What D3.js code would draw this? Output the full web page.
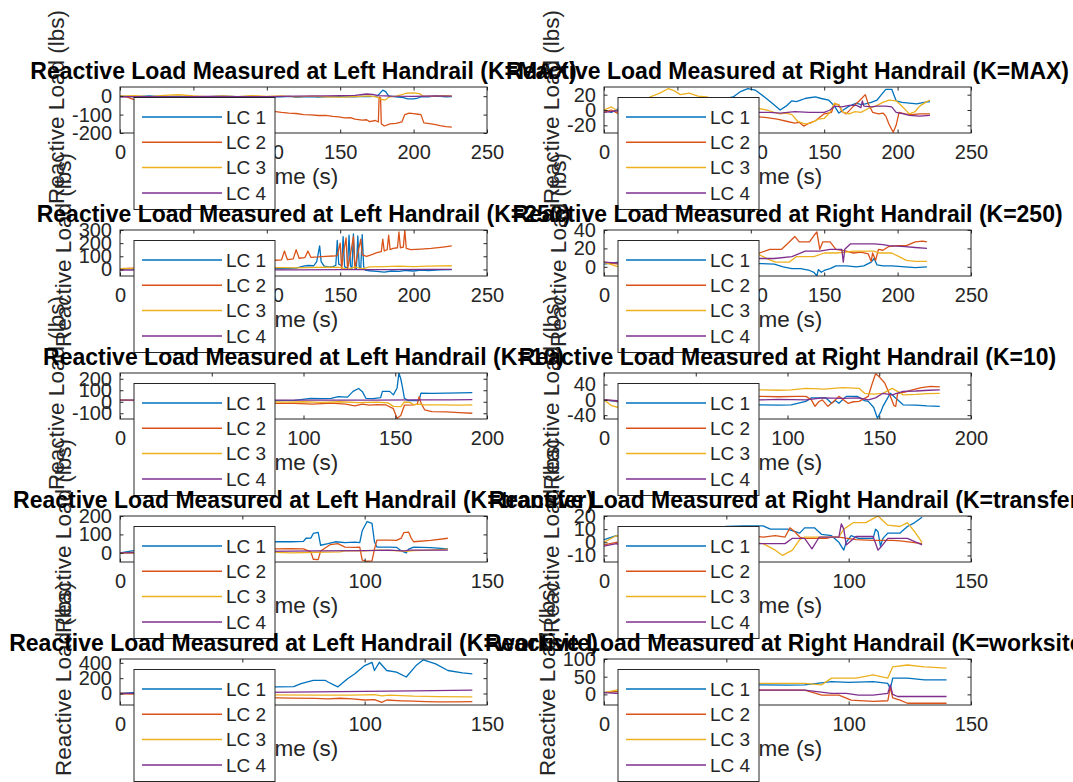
<!DOCTYPE html>
<html>
<head>
<meta charset="utf-8">
<script src="https://cdn.jsdelivr.net/npm/d3@7"></script>
<style>
  body { margin: 0; background: #fff; }
  svg { display: block; font-family: "Liberation Sans", Arial, Helvetica, sans-serif; }
</style>
</head>
<body>
<div id="chart"></div>
<script>
// legend entries and MATLAB default line colours
const seriesNames = ['LC 1', 'LC 2', 'LC 3', 'LC 4'];
const seriesColors = ['#0072BD', '#D95319', '#EDB120', '#7E2F8E'];

// ---- K=MAX, left handrail ----
const leftMaxLC1 = [[0,0],[10,-2],[20,1],[30,-3],[40,-1],[50,-4],[60,-2],[70,0],[80,-3],[90,-1],[100,-5],[110,-3],[116,-1],[120,-6],[125,-3],[130,-2],[135,-5],[140,-4],[145,-2],[150,-1],[155,-4],[160,-3],[165,-1],[170,-2],[175,0],[177,15],[179,33],[181,25],[183,0],[188,-3],[193,-8],[196,-15],[200,-14],[203,-10],[205,-2],[210,-3],[214,0],[218,-1],[222,-3],[226,-2]];
const leftMaxLC2 = [[0,0],[5,-5],[10,-20],[20,-40],[30,-55],[40,-60],[50,-65],[60,-70],[70,-72],[80,-78],[90,-80],[100,-82],[106,-84],[110,-88],[115,-92],[120,-94],[125,-100],[130,-101],[135,-105],[140,-104],[145,-110],[149,-112],[153,-118],[157,-117],[160,-125],[165,-130],[168,-128],[170,-138],[174,-132],[176,-140],[176.5,-5],[177.5,-8],[178,-150],[180,-162],[184,-150],[188,-148],[192,-140],[194,-100],[197,-92],[200,-95],[203,-98],[205,-100],[207,-145],[212,-150],[215,-155],[218,-160],[222,-165],[226,-168]];
const leftMaxLC3 = [[0,0],[10,3],[20,-2],[30,5],[40,8],[50,2],[60,-3],[70,1],[80,-2],[90,3],[100,-1],[110,2],[120,-4],[130,0],[140,-3],[150,-5],[160,-2],[170,2],[175,-5],[178,-18],[181,-20],[183,-5],[188,0],[192,8],[195,16],[200,18],[204,14],[206,2],[212,-1],[220,3],[226,1]];
const leftMaxLC4 = [[0,-3],[20,-2],[40,-4],[60,-1],[80,-3],[100,-2],[120,0],[140,2],[160,5],[168,12],[172,10],[176,3],[185,0],[200,-1],[215,1],[226,0]];

// ---- K=MAX, right handrail ----
const rightMaxLC1 = [[0,0],[5,-3],[10,2],[20,5],[30,3],[40,8],[50,10],[60,6],[70,12],[80,14],[88,17],[93,24],[98,28],[103,26],[110,16],[115,8],[120,0],[124,5],[128,12],[131,11],[134,13],[137,15],[140,16],[144,17],[148,15],[153,13],[157,5],[160,-4],[163,0],[167,5],[172,9],[175,7],[178,8],[182,10],[186,13],[189,20],[192,27],[196,27],[199,12],[203,10],[208,9],[213,8],[218,10],[222,11]];
const rightMaxLC2 = [[0,-3],[5,0],[10,-5],[20,-8],[30,-4],[40,-10],[50,-6],[60,-12],[70,-8],[80,-5],[90,-12],[100,-8],[111,-10],[118,-12],[125,-15],[130,-17],[133,-16],[136,-21],[140,-17],[144,-14],[150,-5],[155,-3],[157,8],[160,7],[162,-2],[165,-5],[170,5],[174,12],[178,20],[180,8],[183,-3],[187,-5],[190,-4],[192,-8],[194,-18],[197,-29],[199,-20],[201,-3],[205,-5],[210,-6],[215,-5],[222,-5]];
const rightMaxLC3 = [[0,0],[5,4],[10,-2],[20,6],[30,16],[38,22],[44,28],[48,25],[52,20],[58,22],[64,18],[70,17],[78,12],[85,8],[95,4],[105,2],[111,0],[116,-3],[120,-5],[124,-4],[128,-6],[132,-15],[137,-18],[141,-17],[146,-12],[150,-11],[154,-3],[157,9],[160,6],[163,-3],[167,-5],[171,-2],[175,-3],[180,2],[185,5],[190,10],[194,13],[199,12],[204,3],[208,-5],[212,-2],[215,5],[219,10],[222,13]];
const rightMaxLC4 = [[0,-3],[10,-1],[20,-4],[30,-2],[40,-5],[50,-3],[60,-2],[70,-4],[80,-3],[90,-5],[100,-3],[113,-3],[120,-4],[130,-2],[140,-3],[150,-3],[154,0],[157,5],[162,4],[167,6],[172,6],[175,3],[176,12],[177,5],[182,4],[186,5],[192,5],[196,4],[199,-3],[204,-5],[208,-7],[215,-8],[222,-7]];

// ---- K=250, left handrail ----
const left250LC1 = [[0,0],[10,5],[20,-3],[30,8],[40,2],[50,10],[60,5],[70,12],[80,8],[90,15],[100,10],[110,5],[120,10],[125,25],[128,30],[132,28],[134,60],[136,179],[137,60],[139,25],[142,20],[145,22],[147,30],[148,220],[149,40],[151,30],[152,250],[153,20],[155,10],[156,260],[157,30],[158,5],[159,270],[160,20],[161,0],[162,255],[163,15],[164,5],[165,265],[166,20],[167,-5],[170,-10],[175,-15],[180,-20],[185,-12],[190,-15],[195,-8],[200,-12],[205,-5],[210,-8],[218,-3],[226,-2]];
const left250LC2 = [[0,5],[10,10],[20,15],[30,25],[40,35],[50,40],[60,45],[70,50],[80,55],[90,60],[100,65],[106,70],[110,72],[112,140],[114,75],[118,80],[120,150],[122,85],[126,90],[128,140],[130,92],[135,95],[140,100],[145,102],[148,105],[150,200],[151,0],[152,110],[154,240],[155,5],[157,115],[159,250],[160,5],[162,120],[164,230],[165,110],[168,100],[172,115],[175,128],[178,135],[179,230],[180,140],[182,150],[183,260],[184,150],[186,160],[189,165],[190,285],[191,165],[193,170],[194,300],[195,160],[198,150],[205,155],[212,160],[220,170],[226,179]];
const left250LC3 = [[0,5],[20,8],[40,10],[60,12],[80,10],[100,15],[120,12],[140,18],[150,15],[155,0],[160,20],[165,5],[170,20],[180,22],[190,25],[200,22],[210,25],[226,28]];
const left250LC4 = [[0,-5],[30,-3],[60,-5],[90,-4],[120,-3],[150,-2],[180,-1],[210,0],[226,0]];

// ---- K=250, right handrail ----
const right250LC1 = [[0,3],[10,5],[20,2],[30,0],[40,3],[50,2],[60,4],[70,1],[80,3],[90,2],[100,4],[106,3.5],[116,3],[122,0],[128,-2],[134,-2],[140,-4],[143,-6],[145,-10],[146,-3],[148,-6],[150,-4],[154,-2],[158,1],[165,1],[172,0],[177,1],[182,5],[184,9],[186,2],[190,1],[196,1],[205,0],[212,-1],[220,0]];
const right250LC2 = [[0,5],[10,3],[20,6],[30,8],[40,5],[50,9],[60,7],[70,10],[80,12],[90,11],[100,14],[106,15],[113,19],[121,19],[125,25],[130,33],[133,27],[140,27],[143,34],[145,38],[147,19],[149,27],[154,27],[158,19],[165,17],[170,15],[175,16],[180,14],[182,6],[183,15],[185,7],[187,19],[190,18],[194,22],[200,23],[206,23],[212,27],[217,28],[220,27]];
const right250LC3 = [[0,5],[10,0],[20,-4],[30,-5],[40,0],[50,2],[60,5],[70,8],[80,10],[90,12],[100,12],[106,13],[112,8],[117,5],[126,5],[131,11],[138,11],[143,11],[150,15],[158,15],[165,16],[170,17],[177,17],[184,17],[187,15],[196,15],[201,11],[206,7],[212,6],[220,6]];
const right250LC4 = [[0,5],[10,4],[20,6],[30,5],[40,7],[50,6],[60,8],[70,7],[80,9],[90,8],[100,9],[106,9],[116,9],[128,11],[137,17],[147,17],[154,19],[162,19],[163,5],[164,19],[168,25],[176,25],[184,25],[190,24],[194,23],[205,22],[212,21],[220,20]];

// ---- K=10, left handrail ----
const left10LC1 = [[0,15],[10,12],[20,14],[30,10],[40,16],[50,12],[60,8],[70,14],[80,10],[85,10],[95,12],[104,30],[110,28],[115,30],[119,45],[124,40],[127,90],[130,115],[132,90],[134,30],[138,28],[142,35],[143,90],[147,90],[149,60],[151,120],[152,250],[153,200],[154,120],[155,30],[157,10],[160,12],[163,10],[164,75],[170,72],[178,75],[185,78],[192,80]];
const left10LC2 = [[0,15],[10,10],[20,5],[30,0],[40,-5],[50,-10],[60,-8],[70,-12],[80,-10],[85,-13],[95,-15],[105,-20],[115,-12],[123,-20],[128,-35],[132,-20],[136,-30],[140,-25],[145,-28],[149,-60],[151,-145],[153,-120],[155,-30],[160,-28],[162,-20],[163,45],[164,-10],[166,-70],[170,-85],[178,-88],[185,-95],[192,-100]];
const left10LC3 = [[0,15],[10,12],[20,8],[30,5],[40,3],[50,0],[60,2],[70,-2],[80,0],[90,-3],[100,0],[110,-5],[120,0],[130,-8],[140,-3],[146,-10],[149,-40],[153,-42],[155,-2],[158,-5],[160,-25],[163,-20],[166,-28],[175,-28],[185,-30],[192,-28]];
const left10LC4 = [[0,15],[20,15],[40,14],[60,15],[80,14],[100,15],[120,14],[140,15],[160,16],[180,17],[192,18]];

// ---- K=10, right handrail ----
const right10LC1 = [[0,0],[5,-3],[10,-8],[20,-12],[30,-10],[40,-14],[50,-12],[60,-15],[70,-13],[80,-12],[85,-13],[95,-14],[102,-13],[110,-4],[113,5],[121,5],[124,-9],[126,-2],[128,-9],[132,9],[138,9],[142,-2],[144,-4],[147,-20],[149,-48],[151,-30],[152,-17],[156,17],[160,0],[163,-13],[170,-14],[176,-16],[183,-17]];
const right10LC2 = [[0,0],[5,-2],[10,-5],[20,0],[30,3],[40,5],[50,6],[60,8],[70,7],[80,9],[85,9],[95,8],[105,9],[110,9],[113,0],[115,-17],[117,-5],[119,0],[122,-17],[125,-5],[128,9],[133,-9],[136,-5],[139,-4],[144,9],[146,40],[148,68],[150,60],[153,44],[156,10],[158,-15],[159,-17],[160,17],[164,20],[168,26],[173,32],[178,35],[183,34]];
const right10LC3 = [[0,0],[4,-15],[8,-20],[15,-10],[20,5],[30,15],[40,20],[50,22],[60,25],[70,24],[80,26],[85,26],[95,25],[102,26],[110,30],[120,28],[130,32],[139,30],[142,17],[147,15],[152,17],[157,30],[160,22],[163,13],[170,14],[176,16],[183,17]];
const right10LC4 = [[0,0],[10,-3],[20,0],[30,-2],[40,2],[50,0],[60,-1],[70,1],[80,0],[85,0],[95,1],[110,0],[119,5],[130,4],[139,5],[144,0],[148,5],[152,17],[157,13],[163,22],[170,23],[177,25],[183,26]];

// ---- K=transfer, left handrail ----
const leftTransferLC1 = [[0,0],[5,10],[10,20],[20,30],[30,40],[40,45],[50,50],[60,55],[64,60],[70,60],[75,62],[76,79],[78,80],[79,105],[81,111],[82,41],[85,50],[88,60],[92,55],[96,58],[98,55],[99,120],[101,170],[103,160],[104,60],[105,31],[110,31],[113,30],[115,10],[117,0],[118,20],[120,31],[127,28],[134,21]];
const leftTransferLC2 = [[0,0],[10,5],[20,10],[30,15],[40,18],[50,20],[60,22],[64,21],[70,22],[75,21],[78,5],[79,-35],[81,-37],[82,10],[86,45],[89,50],[92,31],[96,30],[98,31],[99,-40],[101,-46],[103,-44],[104,20],[105,69],[110,69],[113,68],[115,80],[116,110],[118,112],[119,80],[120,60],[127,68],[134,79]];
const leftTransferLC3 = [[0,0],[10,-5],[20,2],[30,-3],[40,5],[50,0],[60,3],[64,2],[70,0],[80,3],[90,5],[92,12],[100,10],[106,14],[112,12],[117,8],[120,12],[127,15],[134,20]];
const leftTransferLC4 = [[0,0],[20,3],[40,5],[60,8],[80,10],[100,12],[110,14],[116,10],[118,14],[125,15],[134,15]];

// ---- K=transfer, right handrail ----
const rightTransferLC1 = [[0,2],[5,5],[10,3],[20,6],[30,8],[40,10],[50,12],[57,12.5],[65,12.5],[68,10],[75,10],[80,7],[82,11],[86,11],[89,6],[93,5],[96,0],[98,-6],[99,0],[101,5],[104,3],[110,3],[111,10],[112,8],[113,-3],[114,3],[116,7],[121,7],[124,12],[127,15],[130,19]];
const rightTransferLC2 = [[0,-2],[5,0],[10,2],[20,3],[30,5],[40,4],[50,6],[60,5],[65,4],[70,5],[74,4],[76,11],[78,8],[80,4],[82,3],[91,3],[93,4],[96,4],[103,2],[110,1.5],[118,1.5],[121,1],[126,0],[130,-1]];
const rightTransferLC3 = [[0,0],[5,5],[10,2],[20,-2],[30,0],[40,3],[50,1],[60,0],[65,-1],[70,-6],[73,-10],[77,-6],[80,2],[82,4],[89,4],[96,4],[98,10],[102,15],[107,15],[110,18],[112,20],[116,13],[121,12],[124,15],[127,8],[130,0]];
const rightTransferLC4 = [[0,-3],[5,-1],[10,-4],[20,-2],[30,-5],[40,-3],[50,-2],[60,-1],[65,-1],[74,-1],[77,3],[82,3],[85,-5],[88,4],[96,4],[97,14],[98,10],[99,-2],[103,4.4],[110,4.4],[112,-6],[113,-4],[116,3],[124,3],[130,-2]];

// ---- K=worksite, left handrail ----
const leftWorksiteLC1 = [[0,0],[5,10],[10,20],[20,40],[30,55],[40,70],[50,80],[60,85],[64,86],[71,90],[74,129],[79,172],[84,170],[85,150],[89,86],[93,193],[96,257],[100,364],[103,407],[104,300],[106,407],[109,300],[113,279],[117,215],[121,364],[124,440],[129,386],[134,300],[140,270],[144,257]];
const leftWorksiteLC2 = [[0,0],[10,-10],[20,-20],[30,-30],[40,-40],[50,-45],[60,-55],[70,-60],[80,-64],[85,-70],[90,-62],[95,-70],[100,-85],[104,-80],[107,-115],[109,-85],[115,-95],[120,-100],[125,-105],[130,-108],[137,-110],[144,-107]];
const leftWorksiteLC3 = [[0,0],[10,-5],[20,-10],[40,-15],[60,-18],[80,-21],[95,-20],[104,-15],[107,-30],[110,-20],[120,-35],[130,-40],[144,-43]];
const leftWorksiteLC4 = [[0,0],[20,5],[40,10],[60,15],[80,22],[100,28],[120,35],[144,43]];

// ---- K=worksite, right handrail ----
const rightWorksiteLC1 = [[0,5],[5,8],[10,12],[20,15],[30,18],[40,20],[50,22],[60,25],[64,27],[75,26],[82,27],[93,36],[100,34],[110,36],[116,31],[117,15],[118,46],[124,46],[131,41],[140,41]];
const rightWorksiteLC2 = [[0,5],[5,8],[10,10],[20,12],[30,14],[40,13],[50,12],[60,12],[64,12],[82,12],[89,-2],[96,-2],[101,-16],[110,-20],[116,-18],[117,20],[118,-10],[121,-16],[124,-25],[131,-25],[140,-25]];
const rightWorksiteLC3 = [[0,5],[5,12],[8,16],[15,18],[20,20],[30,22],[40,25],[50,28],[60,30],[64,31],[82,31],[89,27],[93,46],[103,46],[110,55],[116,46],[118,78],[124,83],[131,78],[140,74]];
const rightWorksiteLC4 = [[0,5],[5,3],[10,6],[20,8],[30,10],[40,11],[50,12],[60,12],[64,12],[82,12],[93,3],[99,3],[104,-2],[110,-2],[116,3],[117,27],[118,0],[120,-6],[124,-6],[131,-6],[140,-6]];

// axis ticks
const xTicks250 = [0, 50, 100, 150, 200, 250];
const xTicks200 = [0, 50, 100, 150, 200];
const xTicks150 = [0, 50, 100, 150];

const panels = [
  { row: 0, col: 0, title: 'Reactive Load Measured at Left Handrail (K=MAX)', xDomain: [0, 250], xTicks: xTicks250, yDomain: [-200, 50], yTicks: [-200, -100, 0], lines: [leftMaxLC1, leftMaxLC2, leftMaxLC3, leftMaxLC4] },
  { row: 0, col: 1, title: 'Reactive Load Measured at Right Handrail (K=MAX)', xDomain: [0, 250], xTicks: xTicks250, yDomain: [-30, 30], yTicks: [-20, 0, 20], lines: [rightMaxLC1, rightMaxLC2, rightMaxLC3, rightMaxLC4] },
  { row: 1, col: 0, title: 'Reactive Load Measured at Left Handrail (K=250)', xDomain: [0, 250], xTicks: xTicks250, yDomain: [-50, 300], yTicks: [0, 100, 200, 300], lines: [left250LC1, left250LC2, left250LC3, left250LC4] },
  { row: 1, col: 1, title: 'Reactive Load Measured at Right Handrail (K=250)', xDomain: [0, 250], xTicks: xTicks250, yDomain: [-10, 40], yTicks: [0, 20, 40], lines: [right250LC1, right250LC2, right250LC3, right250LC4] },
  { row: 2, col: 0, title: 'Reactive Load Measured at Left Handrail (K=10)', xDomain: [0, 200], xTicks: xTicks200, yDomain: [-150, 250], yTicks: [-100, 0, 100, 200], lines: [left10LC1, left10LC2, left10LC3, left10LC4] },
  { row: 2, col: 1, title: 'Reactive Load Measured at Right Handrail (K=10)', xDomain: [0, 200], xTicks: xTicks200, yDomain: [-50, 70], yTicks: [-40, 0, 40], lines: [right10LC1, right10LC2, right10LC3, right10LC4] },
  { row: 3, col: 0, title: 'Reactive Load Measured at Left Handrail (K=transfer)', xDomain: [0, 150], xTicks: xTicks150, yDomain: [-50, 200], yTicks: [0, 100, 200], lines: [leftTransferLC1, leftTransferLC2, leftTransferLC3, leftTransferLC4] },
  { row: 3, col: 1, title: 'Reactive Load Measured at Right Handrail (K=transfer)', xDomain: [0, 150], xTicks: xTicks150, yDomain: [-15, 20], yTicks: [-10, 0, 10, 20], lines: [rightTransferLC1, rightTransferLC2, rightTransferLC3, rightTransferLC4] },
  { row: 4, col: 0, title: 'Reactive Load Measured at Left Handrail (K=worksite)', xDomain: [0, 150], xTicks: xTicks150, yDomain: [-150, 450], yTicks: [0, 200, 400], lines: [leftWorksiteLC1, leftWorksiteLC2, leftWorksiteLC3, leftWorksiteLC4] },
  { row: 4, col: 1, title: 'Reactive Load Measured at Right Handrail (K=worksite)', xDomain: [0, 150], xTicks: xTicks150, yDomain: [-30, 100], yTicks: [0, 50, 100], lines: [rightWorksiteLC1, rightWorksiteLC2, rightWorksiteLC3, rightWorksiteLC4] }
];

const WIDTH = 1073;
const HEIGHT = 782;
const COL_LEFT = [120, 604];
const AX_W = 367;
const ROW_TOP = [87, 230, 373, 516, 659];
const AX_H = 46;
const INK = '#262626';
const TICK_FONT = 20;
const LABEL_FONT = 22.5;
const TITLE_FONT = 23;
const LEGEND_FONT = 19;
const LEGEND_W = 141;
const LEGEND_H = 112;
const LEGEND_ROW = 25.3;

const legendItems = seriesNames.map((name, i) => ({ name, color: seriesColors[i] }));

const svg = d3.select('#chart')
  .append('svg')
  .attr('width', WIDTH)
  .attr('height', HEIGHT);

svg.append('rect')
  .attr('width', WIDTH)
  .attr('height', HEIGHT)
  .attr('fill', '#fff');

panels.forEach((p, idx) => {
  const left = COL_LEFT[p.col];
  const top = ROW_TOP[p.row];

  const x = d3.scaleLinear().domain(p.xDomain).range([left, left + AX_W]);
  const y = d3.scaleLinear().domain(p.yDomain).range([top + AX_H, top]);

  const g = svg.append('g');

  // axes background
  g.append('rect')
    .attr('x', left).attr('y', top)
    .attr('width', AX_W).attr('height', AX_H)
    .attr('fill', '#fff');

  const clipId = `clip-${idx}`;
  g.append('clipPath').attr('id', clipId)
    .append('rect')
    .attr('x', left).attr('y', top)
    .attr('width', AX_W).attr('height', AX_H);

  const line = d3.line()
    .x((d) => x(d[0]))
    .y((d) => y(d[1]));

  g.append('g')
    .attr('clip-path', `url(#${clipId})`)
    .selectAll('path')
    .data(p.lines.map((pts, i) => ({ pts, color: seriesColors[i] })))
    .enter()
      .append('path')
      .attr('fill', 'none')
      .attr('stroke', (d) => d.color)
      .attr('stroke-width', 1.3)
      .attr('stroke-linejoin', 'round')
      .attr('d', (d) => line(d.pts));

  // ticks point inwards on all four sides (box on)
  const styleAxis = (sel) => {
    sel.select('.domain').remove();
    sel.selectAll('.tick line').attr('stroke', INK);
    sel.selectAll('.tick text')
      .attr('fill', INK)
      .style('font-size', `${TICK_FONT}px`)
      .style('font-family', 'inherit');
  };

  g.append('g')
    .attr('transform', `translate(0,${top + AX_H})`)
    .call(d3.axisBottom(x).tickValues(p.xTicks).tickSizeInner(-3.5).tickSizeOuter(0).tickPadding(12))
    .call(styleAxis);

  g.append('g')
    .attr('transform', `translate(0,${top})`)
    .call(d3.axisTop(x).tickValues(p.xTicks).tickSizeInner(-3.5).tickSizeOuter(0).tickFormat(''))
    .call(styleAxis);

  const yAxisG = g.append('g')
    .attr('transform', `translate(${left},0)`)
    .call(d3.axisLeft(y).tickValues(p.yTicks).tickSizeInner(-3.5).tickSizeOuter(0).tickPadding(8).tickFormat((d) => String(d)))
    .call(styleAxis);

  g.append('g')
    .attr('transform', `translate(${left + AX_W},0)`)
    .call(d3.axisRight(y).tickValues(p.yTicks).tickSizeInner(-3.5).tickSizeOuter(0).tickFormat(''))
    .call(styleAxis);

  g.append('rect')
    .attr('x', left).attr('y', top)
    .attr('width', AX_W).attr('height', AX_H)
    .attr('fill', 'none')
    .attr('stroke', INK)
    .attr('stroke-width', 1);

  // the y label sits just outside the widest tick label, like MATLAB does
  const tickW = d3.max(yAxisG.selectAll('.tick text').nodes(), (n) => n.getComputedTextLength());

  g.append('text')
    .attr('text-anchor', 'middle')
    .attr('transform', `translate(${left + AX_W / 2 - 6},${top + AX_H + 51})`)
    .attr('fill', INK)
    .style('font-size', `${LABEL_FONT}px`)
    .text('Time (s)');

  g.append('text')
    .attr('text-anchor', 'middle')
    .attr('transform', `translate(${left - 8 - tickW - 8},${top + AX_H / 2 - 3}) rotate(-90)`)
    .attr('fill', INK)
    .style('font-size', `${LABEL_FONT}px`)
    .text('Reactive Load (lbs)');

  g.append('text')
    .attr('text-anchor', 'middle')
    .attr('transform', `translate(${left + AX_W / 2},${top - 8.5})`)
    .attr('fill', '#000')
    .style('font-size', `${TITLE_FONT}px`)
    .style('font-weight', 'bold')
    .text(p.title);

  // Legend (northwest, taller than the axes so it spills below)
  const legend = g.append('g')
    .attr('transform', `translate(${left + 14},${top + 10.5})`);

  legend.append('rect')
    .attr('width', LEGEND_W)
    .attr('height', LEGEND_H)
    .attr('fill', '#fff')
    .attr('stroke', INK)
    .attr('stroke-width', 1);

  const cell = legend.selectAll('g.entry')
    .data(legendItems)
    .enter()
      .append('g')
      .attr('class', 'entry')
      .attr('transform', (d, i) => `translate(0,${19.5 + i * LEGEND_ROW})`);

  cell.append('line')
    .attr('x1', 8).attr('x2', 88)
    .attr('y1', 0).attr('y2', 0)
    .attr('stroke', (d) => d.color)
    .attr('stroke-width', 1.5);

  cell.append('text')
    .attr('x', 92)
    .attr('dy', '0.35em')
    .attr('fill', INK)
    .style('font-size', `${LEGEND_FONT}px`)
    .text((d) => d.name);
});
</script>
</body>
</html>
